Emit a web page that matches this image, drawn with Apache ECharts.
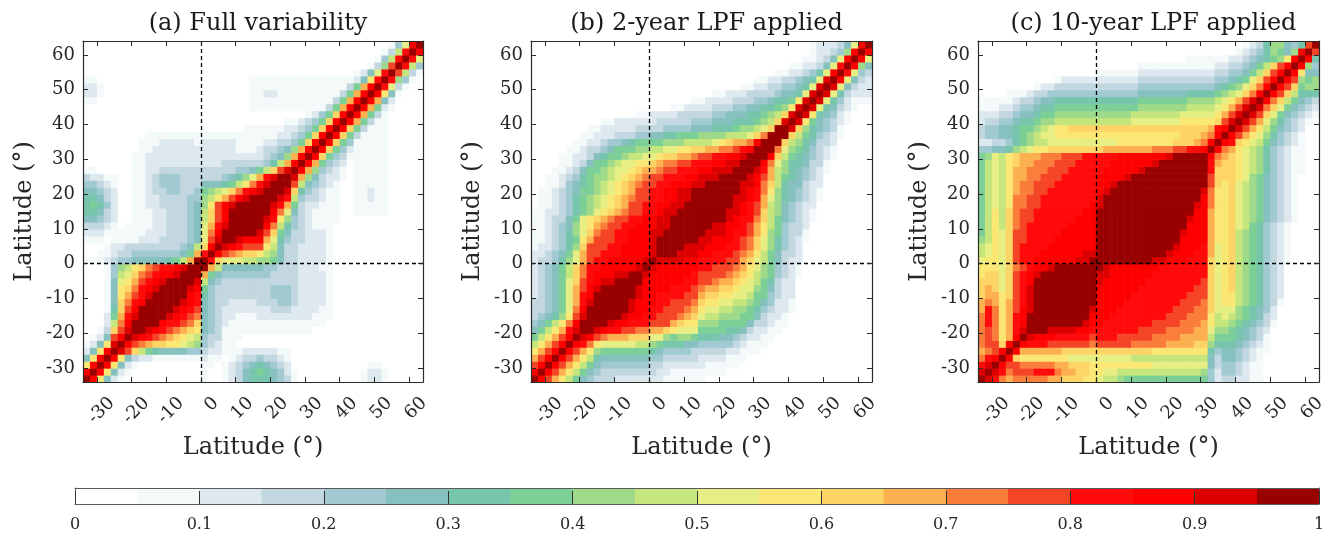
<!DOCTYPE html>
<html>
<head>
<meta charset="utf-8">
<script src="https://cdn.jsdelivr.net/npm/echarts/dist/echarts.min.js"></script>
<style>
html,body{margin:0;padding:0;background:#fff;}
#chart{width:1333px;height:534px;}
</style>
</head>
<body>
<div id="chart"></div>
<script>
// ---------------- data ----------------
// latitude cell centres (2 degree cells)
const LAT = [-33,-31,-29,-27,-25,-23,-21,-19,-17,-15,-13,-11,-9,-7,-5,-3,-1,1,3,5,7,9,11,13,15,17,19,21,23,25,27,29,31,33,35,37,39,41,43,45,47,49,51,53,55,57,59,61,63];
const LAT_MIN = -34, LAT_MAX = 64;
const TICKS = [-30,-20,-10,0,10,20,30,40,50,60];
const TITLES = ['(a) Full variability', '(b) 2-year LPF applied', '(c) 10-year LPF applied'];
const AXIS_NAME = 'Latitude (\u00b0)';
// colour class edges and the colours of the 20 classes
const LEVELS = [0,0.05,0.1,0.15,0.2,0.25,0.3,0.35,0.4,0.45,0.5,0.55,0.6,0.65,0.7,0.75,0.8,0.85,0.9,0.95,1];
const COLORS = ['#ffffff','#f4f9f9','#dde9ee','#c2d7e0','#a0c9d1','#86c0bf','#77c5ac','#7ccf97','#9fda8a','#c5e67c',
                '#e6ee84','#fbe774','#fdd567','#fdb04f','#fb7d3b','#f54527','#ff0b0b','#ff0000','#dd0000','#990000'];
const CBAR_TICKS = [0,0.1,0.2,0.3,0.4,0.5,0.6,0.7,0.8,0.9,1];

// Correlation class per cell, one string per latitude row (row i = LAT[i]),
// columns LAT[0..i] (x <= y); codes 0-9,a-j = classes 0..19. Strings are
// right-aligned on the diagonal (missing leading characters are class 0).
const PANEL_A = [
"j","hj","bhj","5bhj","25bhj","125bij","0125fhj","0013cfij","00029ehjj","00027dgijj",
"00016cfhjjj","00015ceghjjj","00015bdfgijjj","00015bceghijjj","00015abdfghijjj","000149acefghhijj","0001489bcefgghijj",
"111234455555679dj" + "j",
"0011233444444457d" + "gj",
"00012233333333459" + "chj",
"11101111222333345" + "afij",
"22211111122233345" + "aehjj",
"33321011112233345" + "adgijj",
"55432001112233345" + "9cfhjjj",
"66532001112233345" + "9cfhjjjj",
"67642001122333345" + "8bfhijjjj",
"66532001122333344" + "89bdfhijjj",
"55432001123344334" + "789aceghijj",
"44321001123444333" + "555679begijj",
"32211001123444333" + "3334568adgijj",
"11000001122333333" + "3333344579cfij",
"00000001122222222" + "222333333469dhj",
"00000001122222222" + "2222222223458dhj",
"00000000112222222" + "22222111233458dhj",
"00000000111222221" + "222221111223347chj",
"00000000011111111" + "1111111111122347chj",
"00000011111122347chj",
"112347chj",
"1247chj",
"1111111111137dhj",
"11000000000000000" + "0000000" + "111111111111" + "37dhj",
"22100000000000000" + "0000000" + "112211111111" + "137dhj",
"22100000000000000" + "0000000" + "1111111111111" + "137dhj",
"11000000000000000" + "0000000" + "11111111111111" + "125bgj",
"125agj","138fj","149gj","139gj","14ahj"
];
const PANEL_B = [
"j","hj","fhj","dfhj","bdfhj","9bdfhj","79bdfhj","579bdgij","4579behjj","34568bfijj",
"33457aehjjj","33457adgijjj","23457adghjjjj","23457adfhijjjj","23457acfghiijjj","234579ceghhhiijj","234579cegghhhhhij",
"233468adfgghhhhhij",
"223457adffggghhhhij",
"1223468cfffgghhhhijj",
"1123467bdfffgghhhijjj",
"1123468aceffgghhhiijjj",
"1123458abdeffgghhhiijjj",
"1123357abcdeffgghhiijjjj",
"112234678abcdeffgghiijjjj",
"0112346789abcdffgghhiijjjj",
"0112346789abcdeffgghhiijjjj",
"01123457789abcdffgghhiijjjjj",
"00112456789abcdeffgghhhiijjjj",
"001123467889abcdeffggghhiiijjj",
"000112357789aabcddeffggghhiiijj",
"0000112357789aabbcdeeffggghhiijj",
"0000112235677899aabccddeffgghhijj",
"0000011233457778899aabbccddeefghjj",
"00000011223445677778889999abcddehjj",
"0000000112223334455667778888999acejj",
"000000001122222333344445556667889acjj",
"00000000001122222233333444555666789cij",
"000000000000000112222333334455566789cij",
"11222233344556678bij",
"112222333445667bij",
"1122233334556aij",
"1122334456aij",
"112233456aij",
"1122346ahj",
"112235agj",
"11235ahj",
"122348hj",
"122235ahj"
];
const PANEL_C = [
"j","ij","gij","eghj","defhj","effchj","efebdhj","efebdgij","egebdghjj","egebdghjjj",
"dgebdfhijjj","dedbdfgijjjj","cddbcfgijjjjj","cdcacfgijjjjjj","cccacfghjjjjjjj","bccacfghijjjjjjj","bbbacefghhijjjjjj",
"abbac" + "fgghhhhhhiij" + "j",
"9abac" + "fggghhhhhhii" + "jj",
"9abac" + "fgggghhhhhhh" + "jjj",
"89bac" + "ffgggghhhhhh" + "jjjj",
"79bac" + "ffggggghhhhh" + "jjjjj",
"79b9c" + "efgggggghhhh" + "jjjjjj",
"79b9c" + "effgggggghhh" + "jjjjjjj",
"79b9c" + "effggggggghh" + "jjjjjjjj",
"79a9b" + "eeffgggggggh" + "ijjjjjjjj",
"79a9b" + "eeffgggggggg" + "ijjjjjjjjj",
"79a9b" + "deeffggggggg" + "hijjjjjjjjj",
"79a9b" + "deefffgggggg" + "hhijjjjjjjjj",
"79a9b" + "ddeefffggggg" + "hhhhijjjjjjjj",
"79a9b" + "ddeeefffgggg" + "ghhhhhijjjjjjj",
"79a9b" + "cddeeefffggg" + "gghhhhhhijjjjjj",
"78a9b" + "cdddeeefffgg" + "ggghhhhhhhijjjjj",
"44556" + "89abbccccccc" + "cdddddddeeeffgghj",
"22334" + "67899aaaaaaa" + "aaabbbbbbbbcccdehj",
"34455" + "6789aabbbbbb" + "bbbbbbbbbbbbcccdehj",
"34455" + "67789abbcccc" + "ccccccccccccccccdghj",
"23344" + "566788999999" + "99999aaaaaaabbbbbcfij",
"22233" + "455677888888" + "888889999999aaaaabdfij",
"11122" + "344566777777" + "77777788888889999abdfij",
"11111" + "233455666666" + "666666777777788889abdfij",
"00001" + "112334444444" + "44444455555556666789acehj",
"00000" + "000122333333" + "333333" + "44444444444" + "5678acehj",
"00000" + "000000122222" + "222222" + "33333333333" + "44567acfhj",
"111111" + "22222222222" + "3344579cfhj",
"11111111111" + "22334579cfhj",
"111111" + "22345678bhj",
"123468758hj",
"123688546fj"
];

// ---------------- helpers ----------------
const HALF = (LAT[1] - LAT[0]) / 2;
function classOf(ch) {
  const c = ch.charCodeAt(0);
  return c >= 97 ? c - 97 + 10 : c - 48;
}
function buildCells(rows) {
  const out = [];
  rows.forEach(function (row, i) {
    let s = row;
    if (s.length < i + 1) s = s.padStart(i + 1, '0');
    if (s.length > i + 1) s = s.slice(s.length - (i + 1));
    for (let j = 0; j <= i; j++) {
      const k = classOf(s[j]);
      const v = (LEVELS[k] + LEVELS[k + 1]) / 2;
      out.push([LAT[j], LAT[i], v, k]);
      if (j !== i) out.push([LAT[i], LAT[j], v, k]);
    }
  });
  return out;
}
const PANELS = [PANEL_A, PANEL_B, PANEL_C];

// ---------------- layout ----------------
const FONT = 'DejaVu Serif';
const TXT = '#262626';
const GRIDS = [
  {left: 83, top: 41, width: 340, height: 341},
  {left: 531, top: 41, width: 341, height: 341},
  {left: 978, top: 41, width: 341, height: 341}
];
const CBAR_GRID = {left: 75, top: 488, width: 1244, height: 16};

const option = {
  animation: false,
  backgroundColor: '#ffffff',
  title: [],
  grid: [],
  xAxis: [],
  yAxis: [],
  series: []
};

GRIDS.forEach(function (g, p) {
  option.grid.push(g);
  option.title.push({
    text: TITLES[p],
    left: g.left + g.width / 2,
    top: 7,
    textAlign: 'center',
    textStyle: {fontFamily: FONT, fontSize: 24, fontWeight: 'normal', color: '#1a1a1a'}
  });
  const lineStyle = {color: '#2b2b2b', width: 1.2};
  const tick = {show: true, inside: true, length: 5, lineStyle: {color: '#2b2b2b', width: 1}, customValues: TICKS};
  option.xAxis.push({
    type: 'value', gridIndex: p, min: LAT_MIN, max: LAT_MAX, position: 'bottom', z: 5,
    axisLine: {show: true, onZero: false, lineStyle: lineStyle},
    axisTick: tick,
    axisLabel: {show: true, customValues: TICKS, rotate: 45, margin: 12, align: 'right', verticalAlign: 'top',
                padding: [6, -6, 0, 0], fontFamily: FONT, fontSize: 18, color: TXT},
    splitLine: {show: false},
    name: AXIS_NAME, nameLocation: 'middle', nameGap: 54,
    nameTextStyle: {fontFamily: FONT, fontSize: 24, color: TXT}
  });
  option.xAxis.push({
    type: 'value', gridIndex: p, min: LAT_MIN, max: LAT_MAX, position: 'top', z: 5,
    axisLine: {show: true, onZero: false, lineStyle: lineStyle},
    axisTick: tick, axisLabel: {show: false}, splitLine: {show: false}
  });
  option.yAxis.push({
    type: 'value', gridIndex: p, min: LAT_MIN, max: LAT_MAX, position: 'left', z: 5,
    axisLine: {show: true, onZero: false, lineStyle: lineStyle},
    axisTick: tick,
    axisLabel: {show: true, customValues: TICKS, margin: 8, fontFamily: FONT, fontSize: 18, color: TXT},
    splitLine: {show: false},
    name: AXIS_NAME, nameLocation: 'middle', nameGap: 46, nameRotate: 90,
    nameTextStyle: {fontFamily: FONT, fontSize: 24, color: TXT}
  });
  option.yAxis.push({
    type: 'value', gridIndex: p, min: LAT_MIN, max: LAT_MAX, position: 'right', z: 5,
    axisLine: {show: true, onZero: false, lineStyle: lineStyle},
    axisTick: tick, axisLabel: {show: false}, splitLine: {show: false}
  });

  option.series.push({
    type: 'custom',
    xAxisIndex: p * 2, yAxisIndex: p * 2,
    coordinateSystem: 'cartesian2d',
    clip: true,
    silent: true,
    z: 2,
    data: buildCells(PANELS[p]),
    encode: {x: 0, y: 1},
    renderItem: function (params, api) {
      const x = api.value(0), y = api.value(1), k = api.value(3);
      const p0 = api.coord([x - HALF, y + HALF]);
      const p1 = api.coord([x + HALF, y - HALF]);
      return {
        type: 'rect',
        shape: {x: p0[0], y: p0[1], width: p1[0] - p0[0] + 0.6, height: p1[1] - p0[1] + 0.6},
        style: {fill: COLORS[k]}
      };
    }
  });
  option.series.push({
    type: 'line',
    xAxisIndex: p * 2, yAxisIndex: p * 2,
    data: [],
    z: 4,
    silent: true,
    markLine: {
      silent: true,
      symbol: ['none', 'none'],
      label: {show: false},
      lineStyle: {color: '#000000', width: 1.3, type: [4, 3]},
      data: [{xAxis: 0}, {yAxis: 0}]
    }
  });
});

// ---------------- colour bar ----------------
option.grid.push(CBAR_GRID);
const cbIdx = GRIDS.length;
const cbLine = {color: '#5a5a5a', width: 1};
option.xAxis.push({
  type: 'value', gridIndex: cbIdx, min: 0, max: 1, interval: 0.1, position: 'bottom', z: 5,
  axisLine: {show: true, onZero: false, lineStyle: cbLine},
  axisTick: {show: true, inside: true, length: 13, lineStyle: {color: '#333', width: 1}, customValues: CBAR_TICKS},
  axisLabel: {show: true, customValues: CBAR_TICKS, margin: 13, fontFamily: FONT, fontSize: 16, color: TXT,
              formatter: function (v) { return String(Math.round(v * 10) / 10); }},
  splitLine: {show: false}
});
option.xAxis.push({
  type: 'value', gridIndex: cbIdx, min: 0, max: 1, position: 'top', z: 5,
  axisLine: {show: true, onZero: false, lineStyle: cbLine},
  axisTick: {show: false}, axisLabel: {show: false}, splitLine: {show: false}
});
option.yAxis.push({
  type: 'value', gridIndex: cbIdx, min: 0, max: 1, position: 'left', z: 5,
  axisLine: {show: true, onZero: false, lineStyle: cbLine},
  axisTick: {show: false}, axisLabel: {show: false}, splitLine: {show: false}
});
option.yAxis.push({
  type: 'value', gridIndex: cbIdx, min: 0, max: 1, position: 'right', z: 5,
  axisLine: {show: true, onZero: false, lineStyle: cbLine},
  axisTick: {show: false}, axisLabel: {show: false}, splitLine: {show: false}
});
const cbData = COLORS.map(function (c, k) { return [LEVELS[k], LEVELS[k + 1], k]; });
option.series.push({
  type: 'custom',
  xAxisIndex: cbIdx * 2, yAxisIndex: cbIdx * 2,
  coordinateSystem: 'cartesian2d',
  silent: true,
  z: 2,
  data: cbData,
  encode: {x: [0, 1]},
  renderItem: function (params, api) {
    const p0 = api.coord([api.value(0), 1]);
    const p1 = api.coord([api.value(1), 0]);
    return {
      type: 'rect',
      shape: {x: p0[0], y: p0[1], width: p1[0] - p0[0] + 0.5, height: p1[1] - p0[1]},
      style: {fill: COLORS[api.value(2)]}
    };
  }
});

const chart = echarts.init(document.getElementById('chart'), null, {renderer: 'canvas'});
chart.setOption(option);
</script>
</body>
</html>
